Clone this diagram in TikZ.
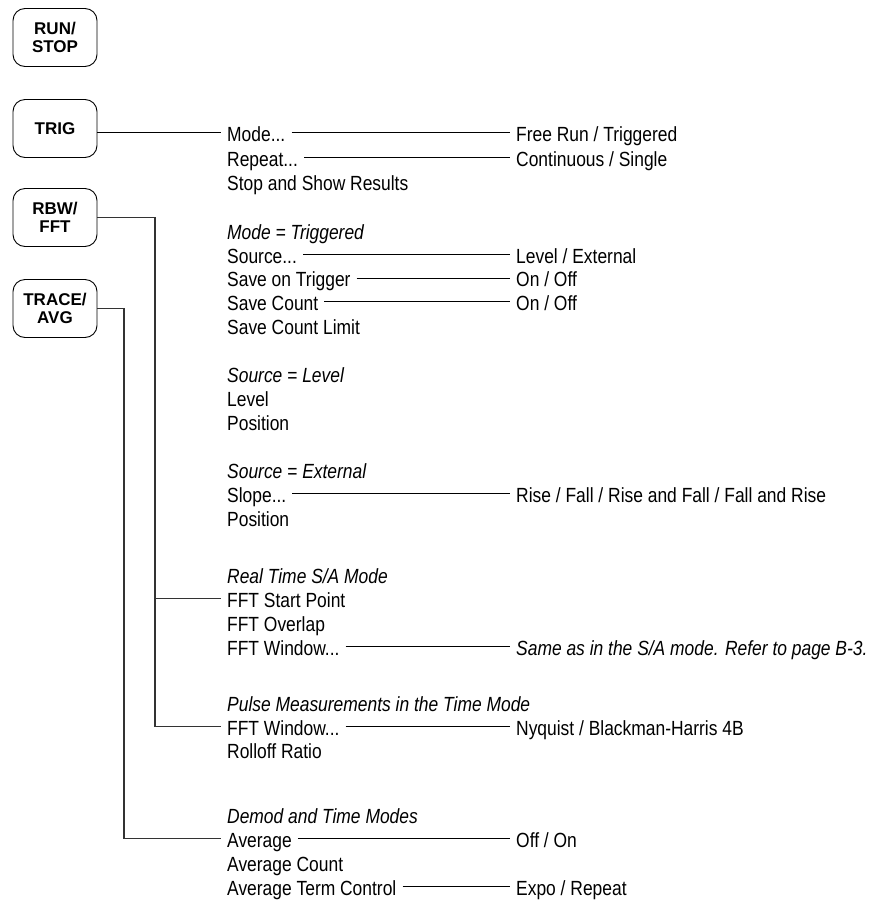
\documentclass[tikz,border=0pt]{standalone}
\usepackage{fontspec}
\setmainfont{Liberation Sans}[FakeStretch=0.85]
\newfontfamily\keyfont{Liberation Sans}
\usetikzlibrary{positioning,calc}
\tikzset{
  keybox/.style={draw, rounded corners=12pt, align=center, font=\keyfont\fontsize{17}{17.5}\selectfont\bfseries,
    minimum width=84pt, minimum height=58pt, inner sep=0pt, line width=0.9pt},
  menuitem/.style={anchor=base west, inner xsep=6pt, inner ysep=0pt, text height=17pt, text depth=0pt,
    font=\fontsize{20.5}{24}\selectfont},
  menuhead/.style={menuitem, font=\fontsize{20.5}{24}\selectfont\itshape},
  link/.style={line width=0.9pt},
  bus/.style={line width=1.3pt, black!80},
}

\begin{document}
\begin{tikzpicture}[x=1pt, y=-1pt]
  \useasboundingbox (0,0) rectangle (873,903);
  \node[keybox] (runstop) at (55,37.5) {RUN/\\STOP};
  \node[keybox] (trig) at (55,128.5) {TRIG};
  \node[keybox] (rbw) at (55,217.5) {RBW/\\FFT};
  \node[keybox] (trace) at (55,308.5) {TRACE/\\AVG};

  \node[menuitem] (mode) at (221,141) {Mode...};
  \node[menuitem] (repeat) at (221,166) {Repeat...};
  \node[menuitem] (stopshow) at (221,190) {Stop and Show Results};
  \node[menuhead] (modetrig) at (221,239) {Mode = Triggered};
  \node[menuitem] (source) at (221,263) {Source...};
  \node[menuitem] (saveontrig) at (221,286.5) {Save on Trigger};
  \node[menuitem] (savecount) at (221,310) {Save Count};
  \node[menuitem] (savelimit) at (221,334) {Save Count Limit};
  \node[menuhead] (srclevel) at (221,382) {Source = Level};
  \node[menuitem] (level) at (221,406) {Level};
  \node[menuitem] (posa) at (221,430) {Position};
  \node[menuhead] (srcext) at (221,478.5) {Source = External};
  \node[menuitem] (slope) at (221,502) {Slope...};
  \node[menuitem] (posb) at (221,526) {Position};
  \node[menuhead] (realtime) at (221,583) {Real Time S/A Mode};
  \node[menuitem] (fftstart) at (221,607) {FFT Start Point};
  \node[menuitem] (fftover) at (221,631) {FFT Overlap};
  \node[menuitem] (fftwin) at (221,655) {FFT Window...};
  \node[menuhead] (pulse) at (221,711) {Pulse Measurements in the Time Mode};
  \node[menuitem] (pulsewin) at (221,735) {FFT Window...};
  \node[menuitem] (rolloff) at (221,758.5) {Rolloff Ratio};
  \node[menuhead] (demod) at (221,823) {Demod and Time Modes};
  \node[menuitem] (average) at (221,847) {Average};
  \node[menuitem] (avgcount) at (221,871) {Average Count};
  \node[menuitem] (avgterm) at (221,895) {Average Term Control};

  \node[menuitem] (freerun) at (510,141) {Free Run / Triggered};
  \node[menuitem] (contsingle) at (510,166) {Continuous / Single};
  \node[menuitem] (levelext) at (510,263) {Level / External};
  \node[menuitem] (onoffa) at (510,286.5) {On / Off};
  \node[menuitem] (onoffb) at (510,310) {On / Off};
  \node[menuitem] (risefall) at (510,502) {Rise / Fall / Rise and Fall / Fall and Rise};
  \node[menuhead] (sameas) at (510,655) {Same as in the S/A mode. Refer to page B-3.};
  \node[menuitem] (nyquist) at (510,735) {Nyquist / Blackman-Harris 4B};
  \node[menuitem] (offon) at (510,847) {Off / On};
  \node[menuitem] (expo) at (510,895) {Expo / Repeat};

  \draw[link] (trig.east |- mode.west) -- (mode.west);
  \draw[link] (mode) -- (freerun);
  \draw[link] (repeat) -- (contsingle);
  \draw[link] (source) -- (levelext);
  \draw[link] (saveontrig) -- (onoffa);
  \draw[link] (savecount) -- (onoffb);
  \draw[link] (slope) -- (risefall);
  \draw[link] (fftwin) -- (sameas);
  \draw[link] (pulsewin) -- (nyquist);
  \draw[link] (average) -- (offon);
  \draw[link] (avgterm) -- (expo);

  \coordinate (rbwbus) at (155,217.5);
  \coordinate (tracebus) at (124,308.5);
  \draw[bus] (rbw.east) -- (rbwbus) |- (pulsewin.west);
  \draw[bus] (rbwbus |- fftstart.west) -- (fftstart.west);
  \draw[bus] (trace.east) -- (tracebus) |- (average.west);
\end{tikzpicture}
\end{document}
